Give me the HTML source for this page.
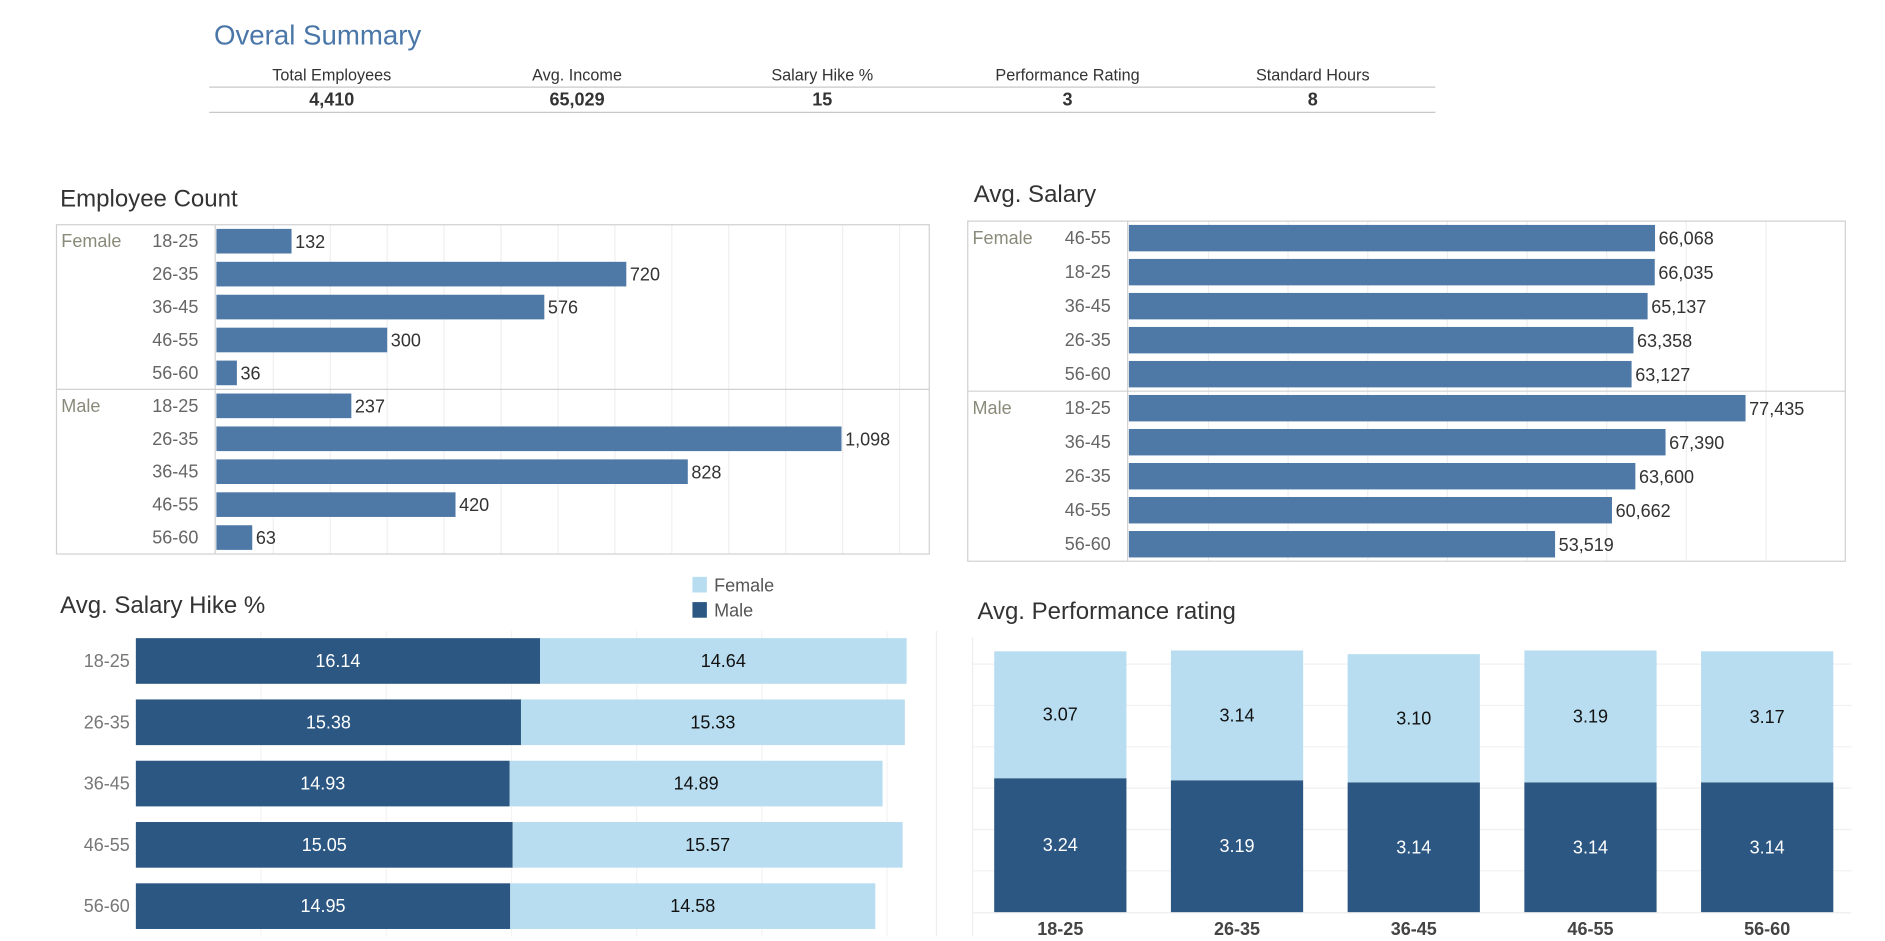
<!DOCTYPE html>
<html><head><meta charset="utf-8"><style>
html,body{margin:0;padding:0;background:#fff;width:1885px;height:941px;overflow:hidden}
svg{display:block}
text{font-family:"Liberation Sans Narrow","Liberation Sans",sans-serif}
</style></head><body>
<svg id="s" width="1885" height="941" viewBox="0 0 1568 783" preserveAspectRatio="none" xmlns="http://www.w3.org/2000/svg">
<text x="178" y="37" font-size="23" fill="#4a76a8">Overal Summary</text>
<g id="kpi"></g>
<text x="50" y="172" font-size="20" fill="#333">Employee Count</text>
<g id="ec"></g>
<text x="810" y="168" font-size="20" fill="#333">Avg. Salary</text>
<g id="as"></g>
<text x="50" y="510" font-size="20" fill="#333">Avg. Salary Hike %</text>
<g>
<rect x="576" y="480" width="12" height="13" fill="#b9ddf0"/>
<text x="594" y="492" font-size="15" fill="#555">Female</text>
<rect x="576" y="501" width="12" height="13" fill="#2b5782"/>
<text x="594" y="513" font-size="15" fill="#555">Male</text>
</g>
<g id="sh"></g>
<text x="813" y="515" font-size="20" fill="#333">Avg. Performance rating</text>
<g id="pr"></g>
</svg>
<script>
const kpiLabels=["Total Employees","Avg. Income","Salary Hike %","Performance Rating","Standard Hours"];
const kpiValues=["4,410","65,029","15","3","8"];
const ages=["18-25","26-35","36-45","46-55","56-60"];
const ecFemale=[132,720,576,300,36];
const ecMale=[237,1098,828,420,63];
const asFemaleCats=["46-55","18-25","36-45","26-35","56-60"];
const asFemale=[66068,66035,65137,63358,63127];
const asMaleCats=["18-25","36-45","26-35","46-55","56-60"];
const asMale=[77435,67390,63600,60662,53519];
const shMale=[16.14,15.38,14.93,15.05,14.95];
const shFemale=[14.64,15.33,14.89,15.57,14.58];
const prMale=[3.24,3.19,3.14,3.14,3.14];
const prFemale=[3.07,3.14,3.10,3.19,3.17];

const NS="http://www.w3.org/2000/svg";
function mk(p,tag,at,txt){const e=document.createElementNS(NS,tag);for(const k in at)e.setAttribute(k,at[k]);if(txt!=null)e.textContent=txt;p.appendChild(e);return e;}
const fmt=v=>v.toLocaleString('en-US');

const kpi=document.getElementById('kpi');
let l=mk(kpi,'line',{x1:174,x2:1194,y1:72.5,y2:72.5,stroke:'#c8c8c8'});


l=mk(kpi,'line',{x1:174,x2:1194,y1:93.5,y2:93.5,stroke:'#c8c8c8'});


kpiLabels.forEach((t,i)=>{const cx=276+i*204;
 let e=mk(kpi,'text',{x:cx,y:67,'font-size':13.5,fill:'#333','text-anchor':'middle'},t);
 
 
 e=mk(kpi,'text',{x:cx,y:88,'font-size':15,fill:'#333','text-anchor':'middle','font-weight':'bold'},kpiValues[i]);
 
 
});

function hbar(g,box,groups,maxv,fmtv){
 const {x0,x1,ax,top,rowH,barH,gridStep,pxMax}=box;
 const X=v=>ax+1+v/maxv*pxMax;
 const n=groups.reduce((a,g)=>a+g.vals.length,0);
 const bottom=top+n*rowH;
 for(let v=gridStep;X(v)<x1;v+=gridStep){const e=mk(g,'line',{x1:X(v),x2:X(v),y1:top,y2:bottom,stroke:'#efefef'});
  
  }
 let e=mk(g,'rect',{x:x0,y:top,width:x1-x0,height:bottom-top,fill:'none',stroke:'#d0d0d0'});
 
 
 e=mk(g,'line',{x1:ax,x2:ax,y1:top,y2:bottom,stroke:'#d0d0d0'});
 
 
 let r=0;
 groups.forEach((gr,gi)=>{
  if(gi>0){const s=mk(g,'line',{x1:x0,x2:x1,y1:top+r*rowH,y2:top+r*rowH,stroke:'#d0d0d0'});
   
   }
  const gl=mk(g,'text',{x:x0+4,y:top+r*rowH+rowH/2+5,'font-size':15,fill:'#8a8a7a'},gr.name);
  
  
  gr.vals.forEach((v,i)=>{const cy=top+r*rowH+rowH/2;
   const c=mk(g,'text',{x:ax-14,y:cy+5,'font-size':15,fill:'#666','text-anchor':'end'},gr.cats[i]);
   
   
   const b=mk(g,'rect',{x:ax+1,y:cy-barH/2,width:X(v)-ax-1,height:barH,fill:'#4e79a7'});
   
   
   const t=mk(g,'text',{x:X(v)+3,y:cy+5.5,'font-size':15,fill:'#333'},fmtv(v));
   
   
   r++;});
 });
}
hbar(document.getElementById('ec'),{x0:47,x1:773,ax:179,top:187,rowH:27.4,barH:20.5,gridStep:100,pxMax:520},
 [{name:'Female',cats:ages,vals:ecFemale},{name:'Male',cats:ages,vals:ecMale}],1098,fmt);
hbar(document.getElementById('as'),{x0:805,x1:1535,ax:938,top:184,rowH:28.3,barH:22,gridStep:10000,pxMax:513},
 [{name:'Female',cats:asFemaleCats,vals:asFemale},{name:'Male',cats:asMaleCats,vals:asMale}],77435,fmt);

const sh=document.getElementById('sh');
const shX=v=>113+v*20.83;
for(let v=5;shX(v)<775;v+=5){const e=mk(sh,'line',{x1:shX(v),x2:shX(v),y1:525,y2:779,stroke:'#f3f3f3'});
 
 }
l=mk(sh,'line',{x1:779,x2:779,y1:525,y2:779,stroke:'#eeeeee'});


ages.forEach((a,i)=>{const cy=550+i*51, h=38;
 let e=mk(sh,'text',{x:108,y:cy+5,'font-size':15,fill:'#777','text-anchor':'end'},a);
 
 
 e=mk(sh,'rect',{x:shX(0),y:cy-h/2,width:shX(shMale[i])-shX(0),height:h,fill:'#2b5782'});
 
 
 e=mk(sh,'rect',{x:shX(shMale[i]),y:cy-h/2,width:shX(shMale[i]+shFemale[i])-shX(shMale[i]),height:h,fill:'#b9ddf0'});
 
 
 e=mk(sh,'text',{x:(shX(0)+shX(shMale[i]))/2,y:cy+5,'font-size':15,fill:'#fff','text-anchor':'middle'},shMale[i].toFixed(2));
 
 
 e=mk(sh,'text',{x:(shX(shMale[i])+shX(shMale[i]+shFemale[i]))/2,y:cy+5,'font-size':15,fill:'#111','text-anchor':'middle'},shFemale[i].toFixed(2));
 
 
});

const pr=document.getElementById('pr');
const base=759, Y=v=>base-v*34.4;
l=mk(pr,'line',{x1:809,x2:809,y1:530,y2:779,stroke:'#eeeeee'});


for(let v=1;v<=6;v++){const e=mk(pr,'line',{x1:809,x2:1540,y1:Y(v),y2:Y(v),stroke:'#f0f0f0'});
 
 }
l=mk(pr,'line',{x1:809,x2:1540,y1:base+0.5,y2:base+0.5,stroke:'#eeeeee'});


ages.forEach((a,i)=>{const cx=882+i*147, w=110;
 let e=mk(pr,'rect',{x:cx-w/2,y:Y(prMale[i]),width:w,height:base-Y(prMale[i]),fill:'#2b5782'});
 
 
 e=mk(pr,'rect',{x:cx-w/2,y:Y(prMale[i]+prFemale[i]),width:w,height:Y(prMale[i])-Y(prMale[i]+prFemale[i]),fill:'#b9ddf0'});
 
 
 e=mk(pr,'text',{x:cx,y:(Y(prMale[i])+base)/2+5,'font-size':15,fill:'#fff','text-anchor':'middle'},prMale[i].toFixed(2));
 
 
 e=mk(pr,'text',{x:cx,y:(Y(prMale[i]+prFemale[i])+Y(prMale[i]))/2+5,'font-size':15,fill:'#111','text-anchor':'middle'},prFemale[i].toFixed(2));
 
 
 e=mk(pr,'text',{x:cx,y:778,'font-size':15,fill:'#444','text-anchor':'middle','font-weight':'bold'},a);
 
 
});
</script>
</body></html>
